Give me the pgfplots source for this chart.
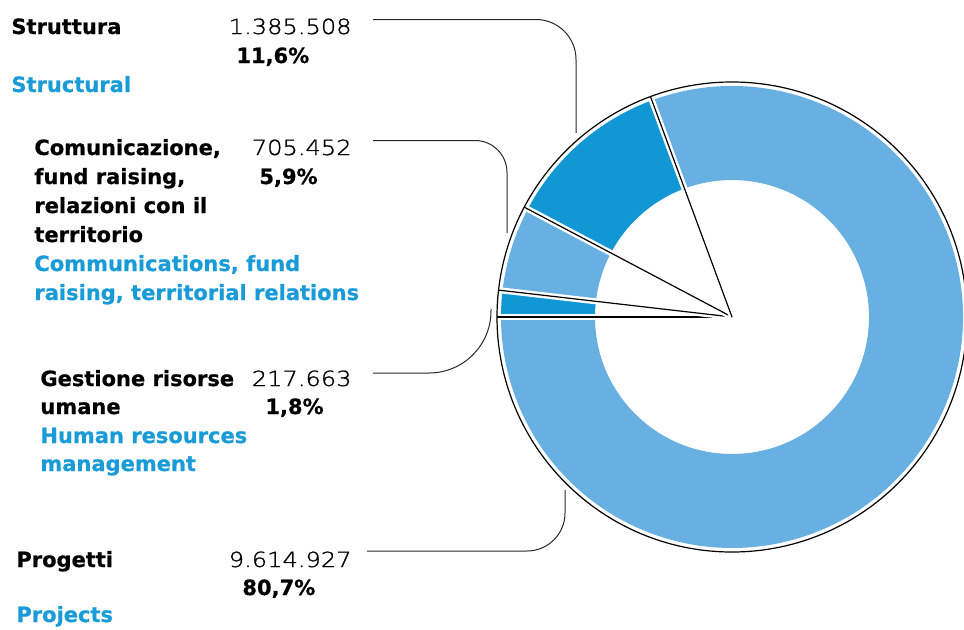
\documentclass[border=0pt]{standalone}
\usepackage{fontspec}
\setmainfont{DejaVu Sans}[BoldFeatures={FakeBold=0.6}]
\newfontfamily\numfont[FakeStretch=1.16, FakeBold=1.2]{DejaVu Sans ExtraLight}
\usepackage{pgfplots}
\usepackage{pgfplotstable}
\pgfplotsset{compat=1.18}

\definecolor{darkblue}{RGB}{16,151,212}
\definecolor{lightblue}{RGB}{104,176,225}
\definecolor{textblue}{RGB}{24,155,215}
\definecolor{leader}{RGB}{40,40,40}

\pgfplotstableread{
label value
Gestione 217663
Comunicazione 705452
Struttura 1385508
Progetti 9614927
}\slices

\pgfplotstablegetelem{0}{value}\of\slices \edef\vA{\pgfplotsretval}
\pgfplotstablegetelem{1}{value}\of\slices \edef\vB{\pgfplotsretval}
\pgfplotstablegetelem{2}{value}\of\slices \edef\vC{\pgfplotsretval}
\pgfplotstablegetelem{3}{value}\of\slices \edef\vD{\pgfplotsretval}
\edef\tot{\fpeval{\vA+\vB+\vC+\vD}}
\edef\aO{180}
\edef\aA{\fpeval{180-360*\vA/\tot}}
\edef\aB{\fpeval{\aA-360*\vB/\tot}}
\edef\aC{\fpeval{\aB-360*\vC/\tot}}
\edef\aD{\fpeval{\aC-360*\vD/\tot}}

\newcommand\lbl{\fontsize{10.5}{14}\selectfont\bfseries}
\newcommand\num{\fontsize{10.4}{14}\selectfont\numfont}

% colour, start angle, end angle
\newcommand\sector[3]{%
  \fill[#1] ([shift={(#2:115.5pt)}]C) arc[start angle=#2, end angle=#3, radius=115.5pt]
    -- ([shift={(#3:68.5pt)}]C) arc[start angle=#3, end angle=#2, radius=68.5pt] -- cycle;}
% angle: white gap + black boundary
\newcommand\boundary[1]{%
  \draw[white, line width=3pt] (C) -- ([shift={(#1:118pt)}]C);
  \draw[black, line width=0.6pt] (C) -- ([shift={(#1:117.5pt)}]C);}

\begin{document}
\begin{tikzpicture}
\begin{axis}[hide axis, x=0.5pt, y=0.5pt, xmin=0, xmax=964, ymin=-629, ymax=0, clip=false]
\coordinate (BL) at (axis cs:0,-629);
\coordinate (TR) at (axis cs:964,0);
\coordinate (C) at (axis cs:732,-317);

% slices
\sector{darkblue}{\aO}{\aA}
\sector{lightblue}{\aA}{\aB}
\sector{darkblue}{\aB}{\aC}
\sector{lightblue}{\aC}{\aD}

% white gaps and black boundaries
\boundary{\aO}
\boundary{\aA}
\boundary{\aB}
\boundary{\aC}
\draw[black, line width=0.6pt] (C) circle[radius=117.5pt];

% leader lines
\draw[leader, line width=0.5pt, rounded corners=20pt] (axis cs:373,-19.5) -- (axis cs:576,-19.5) -- (axis cs:576,-133);
\draw[leader, line width=0.5pt, rounded corners=16pt] (axis cs:373,-140.5) -- (axis cs:507,-140.5) -- (axis cs:507,-233);
\draw[leader, line width=0.5pt, rounded corners=31pt] (axis cs:373,-373) -- (axis cs:491,-373) -- (axis cs:491,-309);
\draw[leader, line width=0.5pt, rounded corners=19pt] (axis cs:367,-551) -- (axis cs:565,-551) -- (axis cs:565,-490);

% Struttura
\node[anchor=base west, inner sep=0, font=\lbl] at (axis cs:11,-34) {Struttura};
\node[anchor=base west, inner sep=0, font=\lbl, text=textblue] at (axis cs:11,-92) {Structural};
\node[anchor=base east, inner sep=0, font=\num] at (axis cs:352,-34) {1.385.508};
\node[anchor=base west, inner sep=0, font=\lbl] at (axis cs:236,-63) {11,6\%};

% Comunicazione
\node[anchor=base west, inner sep=0, font=\lbl] at (axis cs:34,-155) {Comunicazione,};
\node[anchor=base west, inner sep=0, font=\lbl] at (axis cs:34,-184) {fund raising,};
\node[anchor=base west, inner sep=0, font=\lbl] at (axis cs:34,-213) {relazioni con il};
\node[anchor=base west, inner sep=0, font=\lbl] at (axis cs:34,-242) {territorio};
\node[anchor=base west, inner sep=0, font=\lbl, text=textblue] at (axis cs:34,-271) {Communications, fund};
\node[anchor=base west, inner sep=0, font=\lbl, text=textblue] at (axis cs:34,-300) {raising, territorial relations};
\node[anchor=base east, inner sep=0, font=\num] at (axis cs:352,-155) {705.452};
\node[anchor=base west, inner sep=0, font=\lbl] at (axis cs:259,-184) {5,9\%};

% Gestione
\node[anchor=base west, inner sep=0, font=\lbl] at (axis cs:40,-386) {Gestione risorse};
\node[anchor=base west, inner sep=0, font=\lbl] at (axis cs:40,-414) {umane};
\node[anchor=base west, inner sep=0, font=\lbl, text=textblue] at (axis cs:40,-443) {Human resources};
\node[anchor=base west, inner sep=0, font=\lbl, text=textblue] at (axis cs:40,-471) {management};
\node[anchor=base east, inner sep=0, font=\num] at (axis cs:352,-386) {217.663};
\node[anchor=base west, inner sep=0, font=\lbl] at (axis cs:265,-414) {1,8\%};

% Progetti
\node[anchor=base west, inner sep=0, font=\lbl] at (axis cs:16,-567) {Progetti};
\node[anchor=base west, inner sep=0, font=\lbl, text=textblue] at (axis cs:16,-622) {Projects};
\node[anchor=base east, inner sep=0, font=\num] at (axis cs:352,-567) {9.614.927};
\node[anchor=base west, inner sep=0, font=\lbl] at (axis cs:242,-595) {80,7\%};
\end{axis}
\pgfresetboundingbox
\useasboundingbox (BL) rectangle (TR);
\end{tikzpicture}
\end{document}
